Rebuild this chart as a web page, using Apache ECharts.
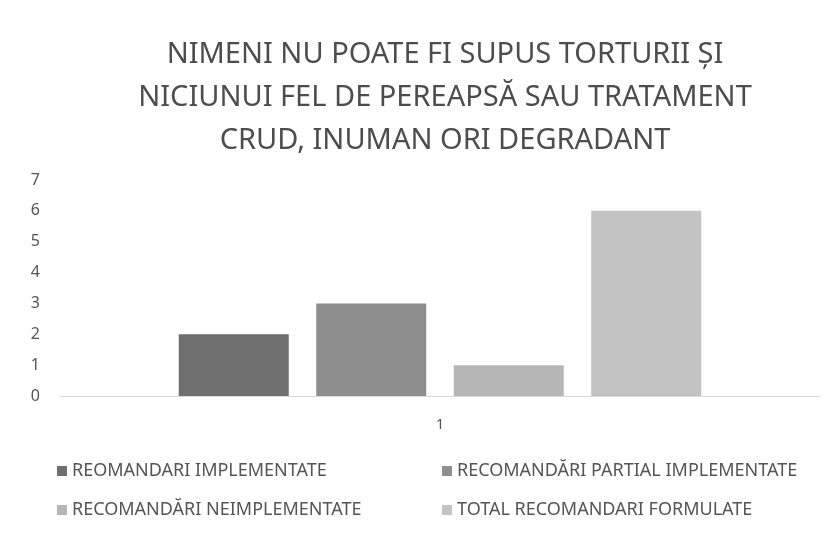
<!DOCTYPE html>
<html>
<head>
<meta charset="utf-8">
<script src="https://cdn.jsdelivr.net/npm/echarts@6/dist/echarts.min.js"></script>
<style>
  html, body { margin: 0; padding: 0; background: #fff; }
  #chart { width: 835px; height: 536px; }
</style>
</head>
<body>
<div id="chart"></div>
<script>
// date
const categories = ['1'];
const seriesNames = [
  'REOMANDARI IMPLEMENTATE',
  'RECOMANDĂRI PARTIAL IMPLEMENTATE',
  'RECOMANDĂRI NEIMPLEMENTATE',
  'TOTAL RECOMANDARI FORMULATE'
];
const implementate = [2];
const partialImplementate = [3];
const neimplementate = [1];
const totalFormulate = [6];
const yTicks = [0, 1, 2, 3, 4, 5, 6, 7];

const colors = ['#6f6f6f', '#8e8e8e', '#b6b6b6', '#c3c3c3'];
const values = [implementate, partialImplementate, neimplementate, totalFormulate];
const font = 'Noto Sans';

const chart = echarts.init(document.getElementById('chart'));

const legendBase = {
  orient: 'vertical',
  top: 457,
  itemWidth: 10,
  itemHeight: 10,
  itemGap: 21,
  icon: 'rect',
  textStyle: { fontFamily: font, fontSize: 18, color: '#555' }
};

const option = {
  animation: false,
  title: {
    text: 'NIMENI NU POATE FI SUPUS TORTURII ȘI\nNICIUNUI FEL DE PEREAPSĂ SAU TRATAMENT\nCRUD, INUMAN ORI DEGRADANT',
    left: 440,
    textAlign: 'center',
    top: 28,
    textStyle: {
      fontFamily: font,
      fontSize: 29,
      fontWeight: 'normal',
      color: '#4d4d4d',
      lineHeight: 43
    }
  },
  legend: [
    Object.assign({}, legendBase, { data: [seriesNames[0], seriesNames[2]], left: 52 }),
    Object.assign({}, legendBase, { data: [seriesNames[1], seriesNames[3]], left: 437 })
  ],
  grid: {
    left: 60,
    right: 15,
    top: 180,
    bottom: 140
  },
  xAxis: {
    type: 'category',
    data: categories,
    axisLine: { lineStyle: { color: '#d9d9d9' } },
    axisTick: { show: false },
    axisLabel: { fontFamily: font, fontSize: 15, color: '#555', margin: 21 }
  },
  yAxis: {
    type: 'value',
    min: yTicks[0],
    max: yTicks[yTicks.length - 1],
    interval: 1,
    axisLine: { show: false },
    axisTick: { show: false },
    splitLine: { show: false },
    axisLabel: { fontFamily: font, fontSize: 16, color: '#555', margin: 20 }
  },
  series: seriesNames.map((name, i) => ({
    name: name,
    type: 'bar',
    data: values[i],
    barWidth: 110,
    barGap: '25%',
    itemStyle: { color: colors[i] }
  }))
};

chart.setOption(option);
</script>
</body>
</html>
